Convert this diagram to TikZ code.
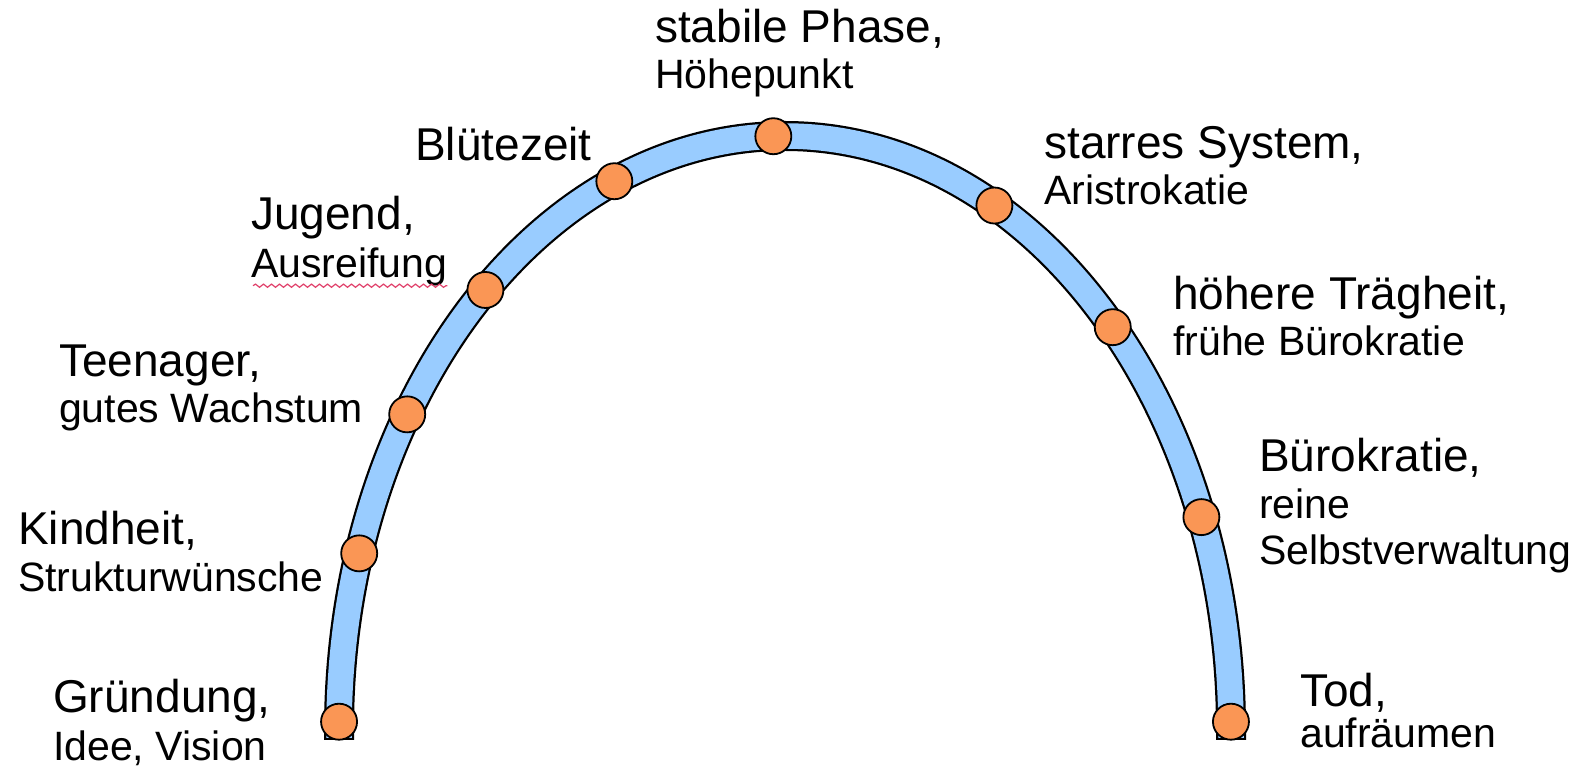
\documentclass[tikz,border=0pt]{standalone}
\usepackage{fontspec}
\setmainfont{Liberation Sans}
\usetikzlibrary{decorations.pathmorphing}
\definecolor{bandblue}{HTML}{99CCFF}
\definecolor{dotorange}{HTML}{FA9655}
\definecolor{spellred}{HTML}{E0406A}
\begin{document}
\begin{tikzpicture}[x=1pt,y=1pt,
  big/.style={anchor=base west, inner sep=0pt, font=\fontsize{46}{50}\selectfont},
  small/.style={anchor=base west, inner sep=0pt, font=\fontsize{41}{45}\selectfont},
  dot/.style={circle, draw=black, line width=1.8pt, fill=dotorange, minimum size=36pt, inner sep=0pt},
  bandpath/.style={line cap=butt}]
\useasboundingbox (0,0) rectangle (1584,768);
\coordinate (C) at (785,38);
% band
\draw[bandpath, line width=30pt, black] (339,28) -- (339,38) arc[start angle=180,end angle=0,x radius=446pt,y radius=594pt] -- (1231,28);
\draw[bandpath, line width=25.5pt, bandblue] (339,30) -- (339,38) arc[start angle=180,end angle=0,x radius=446pt,y radius=594pt] -- (1231,30);
% dots
\path (C) ++(179.2:446pt and 594pt) node[dot] (d1) {};
\path (C) ++(162.7:446pt and 594pt) node[dot] (d2) {};
\path (C) ++(147.9:446pt and 594pt) node[dot] (d3) {};
\path (C) ++(132.2:446pt and 594pt) node[dot] (d4) {};
\path (C) ++(112.5:446pt and 594pt) node[dot] (d5) {};
\path (C) ++(91.5:446pt and 594pt) node[dot] (d6) {};
\path (C) ++(62:446pt and 594pt) node[dot] (d7) {};
\path (C) ++(42.7:446pt and 594pt) node[dot] (d8) {};
\path (C) ++(21:446pt and 594pt) node[dot] (d9) {};
\path (C) ++(0.8:446pt and 594pt) node[dot] (d10) {};
% labels (baselines in y-up coordinates: 768 - pixel)
\node[big] (t6a) at (655,725) {stabile Phase,};
\node[small] (t6b) at (655,679) {Höhepunkt};
\node[big] (t5a) at (415,607) {Blütezeit};
\node[big] (t4a) at (251,538) {Jugend,};
\node[small] (t4b) at (251,490) {Ausreifung};
\draw[spellred, line width=1.2pt, decorate, decoration={snake, amplitude=1.6pt, segment length=8pt}] (t4b.south west) ++(2,1) coordinate (sq1) -- (sq1 -| t4b.south east);
\node[big] (t3a) at (59,391) {Teenager,};
\node[small] (t3b) at (59,345) {gutes Wachstum};
\node[big] (t2a) at (18,223) {Kindheit,};
\node[small] (t2b) at (18,176) {Strukturwünsche};
\node[big] (t1a) at (53,56) {Gründung,};
\node[small] (t1b) at (53,8) {Idee, Vision};
\node[big] (t7a) at (1044,609) {starres System,};
\node[small] (t7b) at (1044,563) {Aristrokatie};
\node[big] (t8a) at (1173,458) {höhere Trägheit,};
\node[small] (t8b) at (1173,412) {frühe Bürokratie};
\node[big] (t9a) at (1259,296) {Bürokratie,};
\node[small] (t9b) at (1259,249) {reine};
\node[small] (t9c) at (1259,203) {Selbstverwaltung};
\node[big] (t10a) at (1300,61) {Tod,};
\node[small] (t10b) at (1300,20) {aufräumen};
\end{tikzpicture}
\end{document}
